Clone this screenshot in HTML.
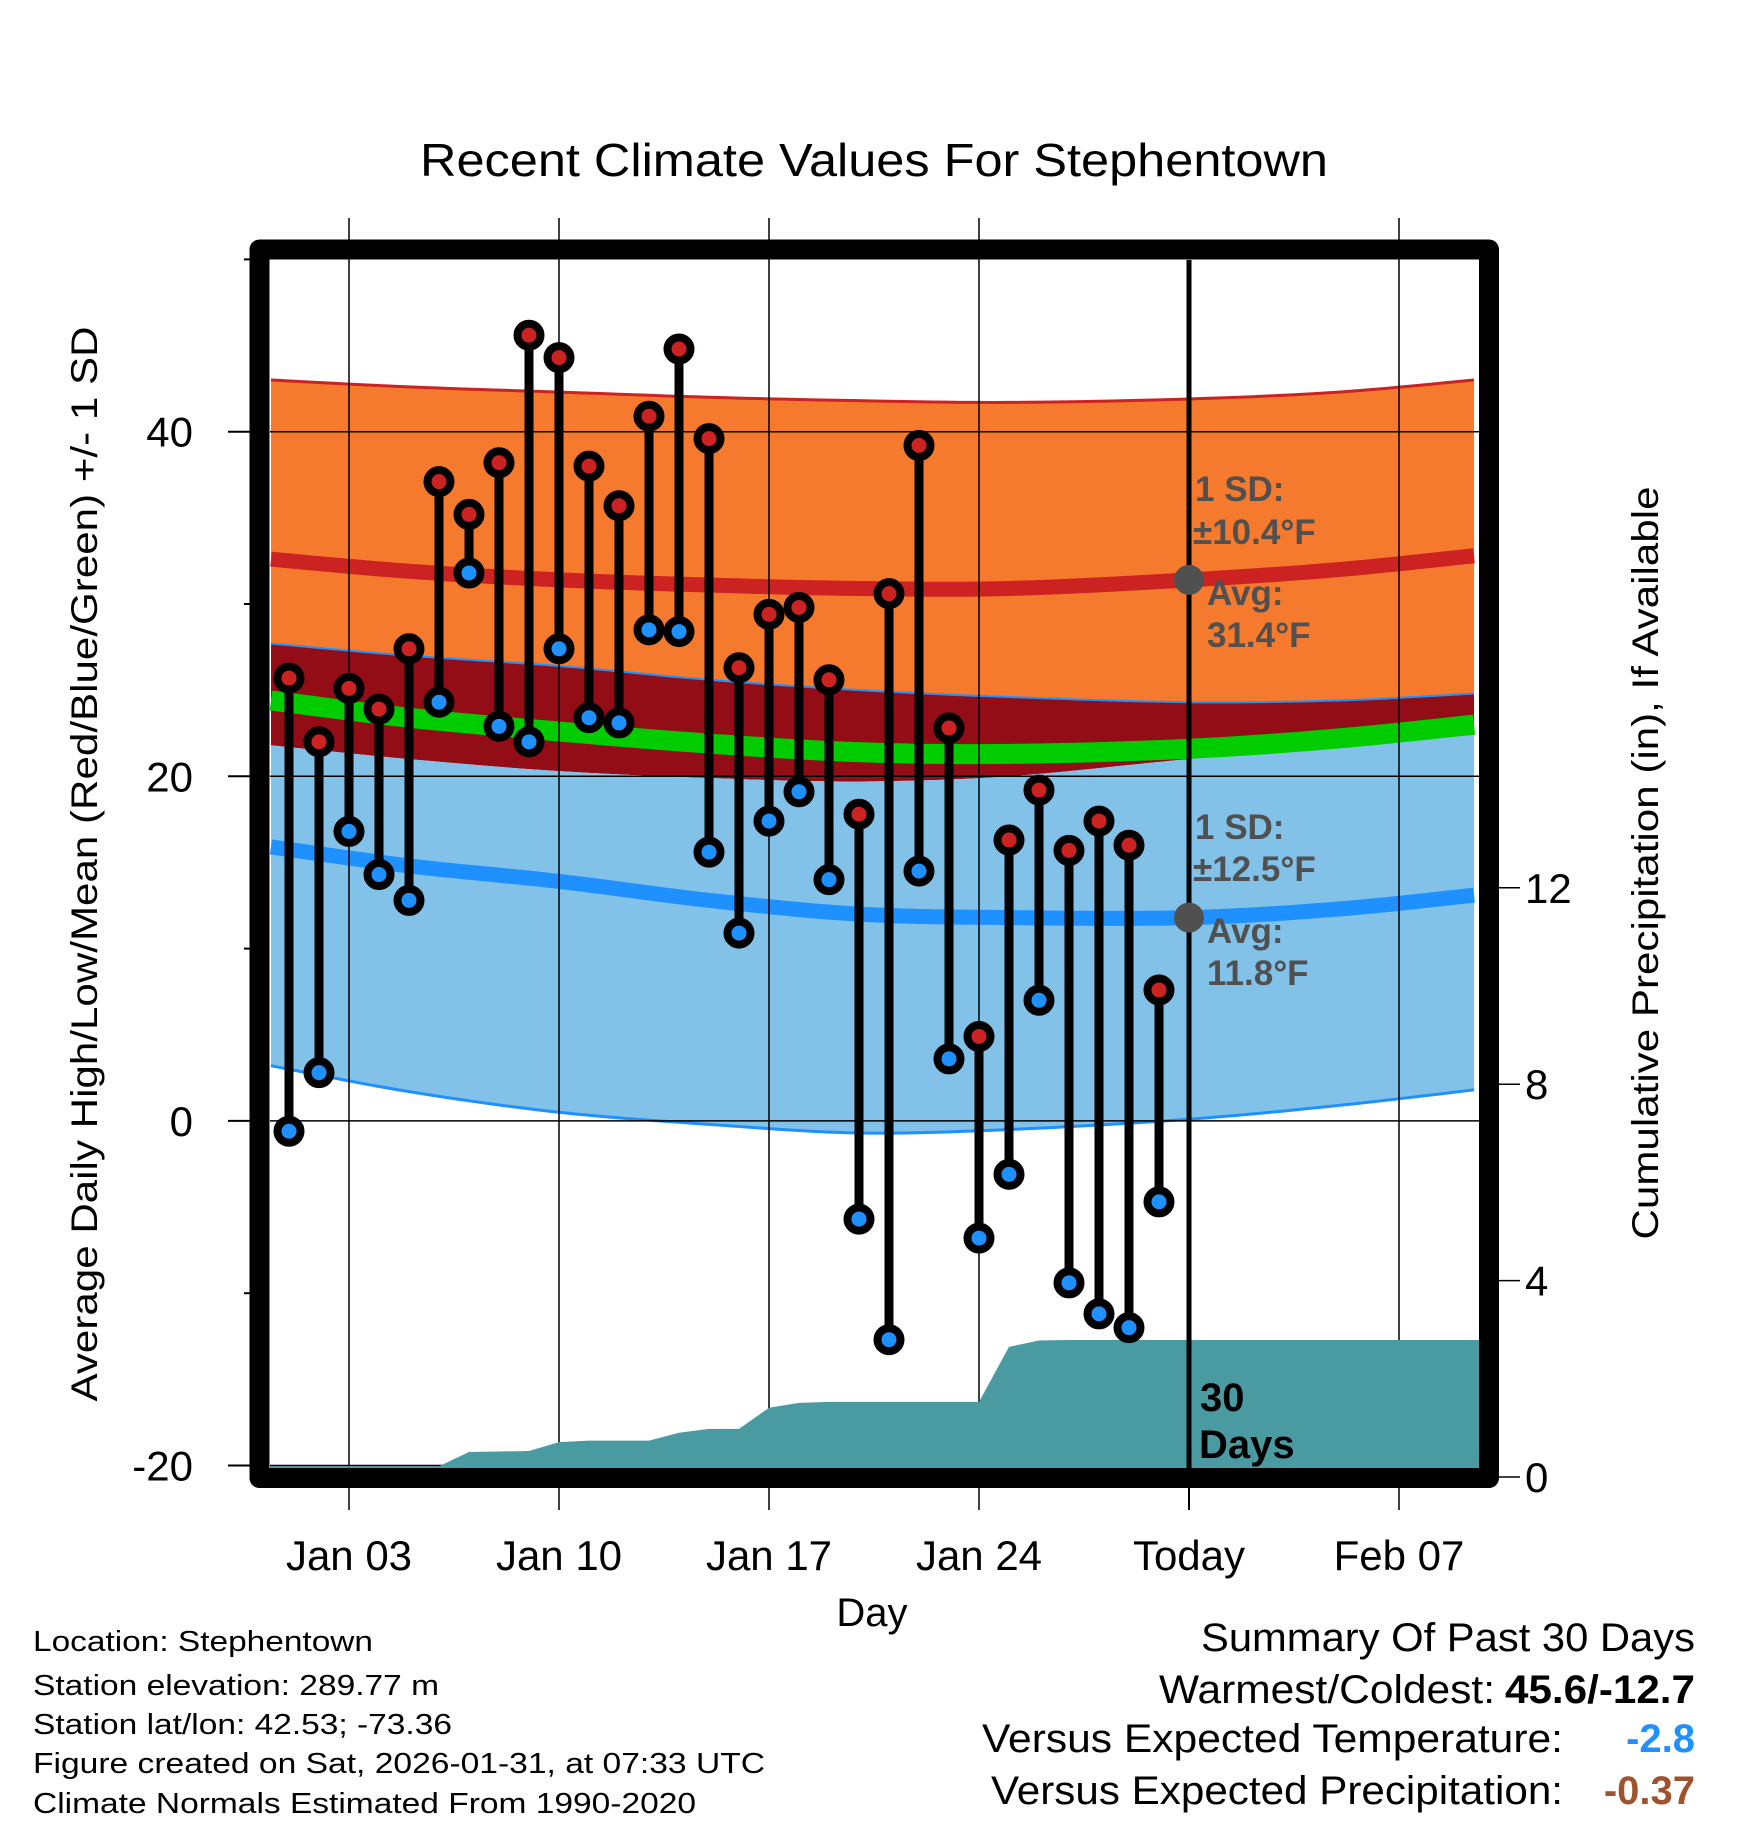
<!DOCTYPE html>
<html><head><meta charset="utf-8"><style>
html,body{margin:0;padding:0;background:#fff}
svg{display:block}
text{font-family:"Liberation Sans",sans-serif}
</style></head><body>
<svg id="chart" width="1748" height="1828" viewBox="0 0 1748 1828" xmlns="http://www.w3.org/2000/svg">
<g id="bands"></g>
<g id="grid"></g>
<g id="precip"></g>
<g id="marks"></g>
<rect x="259.5" y="249.5" width="1229.5" height="1228.5" fill="none" stroke="#000" stroke-width="20" stroke-linejoin="round"/>
<g id="ticks"></g>
<text x="420" y="176" font-size="46" textLength="908" lengthAdjust="spacingAndGlyphs">Recent Climate Values For Stephentown</text>
<text transform="translate(97,864) rotate(-90)" text-anchor="middle" font-size="37" textLength="1075" lengthAdjust="spacingAndGlyphs">Average Daily High/Low/Mean (Red/Blue/Green) +/- 1 SD</text>
<text transform="translate(1658,863) rotate(-90)" text-anchor="middle" font-size="37" textLength="753" lengthAdjust="spacingAndGlyphs">Cumulative Precipitation (in), If Available</text>
<text x="872" y="1626" text-anchor="middle" font-size="40">Day</text>
<g fill="#505050" font-weight="bold" font-size="35">
<text x="1195" y="501">1 SD:</text><text x="1193" y="544">±10.4°F</text>
<text x="1207" y="605">Avg:</text><text x="1207" y="647">31.4°F</text>
</g>
<g fill="#505050" font-weight="bold" font-size="35">
<text x="1195" y="839">1 SD:</text><text x="1193" y="881">±12.5°F</text>
<text x="1207" y="943">Avg:</text><text x="1207" y="985">11.8°F</text>
</g>
<g font-weight="bold" font-size="40" fill="#000">
<text x="1200" y="1411">30</text><text x="1199" y="1458">Days</text>
</g>
<g font-size="29">
<text x="33" y="1651" textLength="340" lengthAdjust="spacingAndGlyphs">Location: Stephentown</text>
<text x="33" y="1695" textLength="406" lengthAdjust="spacingAndGlyphs">Station elevation: 289.77 m</text>
<text x="33" y="1734" textLength="419" lengthAdjust="spacingAndGlyphs">Station lat/lon: 42.53; -73.36</text>
<text x="33" y="1773" textLength="732" lengthAdjust="spacingAndGlyphs">Figure created on Sat, 2026-01-31, at 07:33 UTC</text>
<text x="33" y="1813" textLength="663" lengthAdjust="spacingAndGlyphs">Climate Normals Estimated From 1990-2020</text>
</g>
<g font-size="40">
<text x="1695" y="1651" text-anchor="end" textLength="494" lengthAdjust="spacingAndGlyphs">Summary Of Past 30 Days</text>
<text x="1495" y="1703" text-anchor="end" textLength="336" lengthAdjust="spacingAndGlyphs">Warmest/Coldest:</text>
<text x="1695" y="1703" text-anchor="end" font-weight="bold" textLength="190" lengthAdjust="spacingAndGlyphs">45.6/-12.7</text>
<text x="1563" y="1752" text-anchor="end" textLength="581" lengthAdjust="spacingAndGlyphs">Versus Expected Temperature:</text>
<text x="1695" y="1752" text-anchor="end" font-weight="bold" fill="#1e90ff">-2.8</text>
<text x="1563" y="1804" text-anchor="end" textLength="572" lengthAdjust="spacingAndGlyphs">Versus Expected Precipitation:</text>
<text x="1695" y="1804" text-anchor="end" font-weight="bold" fill="#a0522d">-0.37</text>
</g>
</svg>
<script>
const days = [1,2,3,4,5,6,7,8,9,10,11,12,13,14,15,16,17,18,19,20,21,22,23,24,25,26,27,28,29,30];
const highs = [25.7,22.0,25.1,23.9,27.4,37.1,35.2,38.2,45.6,44.3,38.0,35.7,40.9,44.8,39.6,26.3,29.4,29.8,25.6,17.8,30.6,39.2,22.8,4.9,16.3,19.2,15.7,17.4,16.0,7.6];
const lows = [-0.6,2.8,16.8,14.3,12.8,24.3,31.8,22.9,22.0,27.4,23.4,23.1,28.5,28.4,15.6,10.9,17.4,19.1,14.0,-5.7,-12.7,14.5,3.6,-6.8,-3.1,7.0,-9.4,-11.2,-12.0,-4.7];
const precip = [0.22,0.22,0.22,0.22,0.22,0.22,0.51,0.52,0.53,0.71,0.74,0.74,0.74,0.90,0.98,0.98,1.41,1.51,1.53,1.53,1.53,1.53,1.53,1.53,2.65,2.78,2.79,2.79,2.79,2.79];
const normDays = [0.4,5,10,15,20,25,31,36,40.5];
const normHighUp = [43.0,42.6,42.3,42.0,41.8,41.7,41.9,42.3,43.0];
const normHigh = [32.6,31.9,31.4,31.1,30.9,30.9,31.4,32.0,32.8];
const normHighLo = [27.7,27.0,26.4,25.6,25.0,24.6,24.3,24.4,24.8];
const normMean = [24.4,23.4,22.6,21.9,21.4,21.3,21.6,22.2,23.0];
const normLowUp = [21.8,21.0,20.3,19.9,19.7,20.0,21.0,21.7,22.4];
const normLow = [15.9,14.8,13.9,12.8,12.0,11.8,11.8,12.3,13.1];
const normLowLo = [3.2,1.7,0.5,-0.2,-0.7,-0.5,0.1,0.9,1.8];
const yTicks = [-20,0,20,40];
const yMinor = [-10,10,30,50];
const pTicks = [0,4,8,12];
const xTickDays = [3,10,17,24,31,38];
const xTickLabels = ["Jan 03","Jan 10","Jan 17","Jan 24","Today","Feb 07"];
const todayDay = 31, todayHigh = 31.4, todayLow = 11.8;

const NS = "http://www.w3.org/2000/svg";
const X = d => 289 + (d - 1) * 30;
const Y = v => 431.7 + (40 - v) * 17.23;
const P = p => 1477 - p * 49.1;
const L = 270, R = 1479, T = 260, B = 1468;
function mk(parent, tag, attrs) {
  const e = document.createElementNS(NS, tag);
  for (const k in attrs) e.setAttribute(k, attrs[k]);
  parent.appendChild(e); return e;
}
const clamp = (x) => Math.max(L, Math.min(R, x));
// smooth (Catmull-Rom) sampling through the normal points
function smooth(arr) {
  const out = [];
  const n = normDays.length;
  for (let i = 0; i < n - 1; i++) {
    const p0 = [normDays[Math.max(0,i-1)], arr[Math.max(0,i-1)]];
    const p1 = [normDays[i], arr[i]];
    const p2 = [normDays[i+1], arr[i+1]];
    const p3 = [normDays[Math.min(n-1,i+2)], arr[Math.min(n-1,i+2)]];
    for (let s = 0; s < 10; s++) {
      const t = s / 10, t2 = t*t, t3 = t2*t;
      const f = (a,b,c,d) => 0.5*((2*b) + (-a+c)*t + (2*a-5*b+4*c-d)*t2 + (-a+3*b-3*c+d)*t3);
      out.push([clamp(X(f(p0[0],p1[0],p2[0],p3[0]))), Y(f(p0[1],p1[1],p2[1],p3[1]))]);
    }
  }
  out.push([clamp(X(normDays[n-1])), Y(arr[n-1])]);
  return out;
}
function pts(arr) { return smooth(arr).map(p => p.join(",")).join(" "); }
function band(top, bot) { return pts(top) + " " + smooth(bot).reverse().map(p => p.join(",")).join(" "); }

const bands = document.getElementById('bands');
let e;
e = mk(bands, 'polygon', {points: band(normHighUp, normHighLo), fill: '#f57a2d'});
 
e = mk(bands, 'polygon', {points: band(normHighLo, normLowUp), fill: '#920d15'});
 
e = mk(bands, 'polygon', {points: band(normLowUp, normLowLo), fill: '#82c1e8'});
 
e = mk(bands, 'polyline', {points: pts(normHighUp), fill: 'none', stroke: '#cc2222', 'stroke-width': 3});
 
e = mk(bands, 'polyline', {points: pts(normHighLo), fill: 'none', stroke: '#1e90ff', 'stroke-width': 2});
 
e = mk(bands, 'polyline', {points: pts(normLowLo), fill: 'none', stroke: '#1e90ff', 'stroke-width': 3});
 
e = mk(bands, 'polyline', {points: pts(normHigh), fill: 'none', stroke: '#cc2222', 'stroke-width': 15});
 
e = mk(bands, 'polyline', {points: pts(normMean), fill: 'none', stroke: '#00cc00', 'stroke-width': 20});
 
e = mk(bands, 'polyline', {points: pts(normLow), fill: 'none', stroke: '#1e90ff', 'stroke-width': 15});
 

const grid = document.getElementById('grid');
yTicks.forEach(v => {
  const g = mk(grid, 'line', {x1: L, x2: R, y1: Y(v), y2: Y(v), stroke: '#000', 'stroke-width': 1.5});
   
});
xTickDays.forEach((d, i) => {
  if (i === 4) return;
  const g = mk(grid, 'line', {x1: X(d), x2: X(d), y1: 218, y2: 1510, stroke: '#000', 'stroke-width': 1.5});
   
});

const pg = document.getElementById('precip');
let pp = L + "," + B + " " + L + "," + P(precip[0]) + " ";
pp += days.map((d, i) => X(d) + "," + P(precip[i])).join(" ");
pp += " " + R + "," + P(precip[precip.length - 1]) + " " + R + "," + B;
e = mk(pg, 'polygon', {points: pp, fill: '#4a9aa2'});
 

const marks = document.getElementById('marks');
e = mk(marks, 'line', {x1: X(todayDay), x2: X(todayDay), y1: T, y2: B, stroke: '#000', 'stroke-width': 5});
 
e = mk(marks, 'circle', {cx: X(todayDay), cy: Y(todayHigh), r: 15, fill: '#505050'});
 
e = mk(marks, 'circle', {cx: X(todayDay), cy: Y(todayLow), r: 15, fill: '#505050'});
 
days.forEach((d, i) => {
  const s = mk(marks, 'line', {x1: X(d), x2: X(d), y1: Y(highs[i]), y2: Y(lows[i]), stroke: '#000', 'stroke-width': 9});
   
  const h = mk(marks, 'circle', {cx: X(d), cy: Y(highs[i]), r: 11.5, fill: '#cc2222', stroke: '#000', 'stroke-width': 8});
   
  const l = mk(marks, 'circle', {cx: X(d), cy: Y(lows[i]), r: 11.5, fill: '#1e90ff', stroke: '#000', 'stroke-width': 8});
   
});

const ticks = document.getElementById('ticks');
yTicks.forEach(v => {
  const t = mk(ticks, 'line', {x1: 228, x2: 250, y1: Y(v), y2: Y(v), stroke: '#000', 'stroke-width': 2});
   
  const lb = mk(ticks, 'text', {x: 193, y: Y(v) + 15, 'text-anchor': 'end', 'font-size': 42});
  lb.textContent = String(v);
   
});
yMinor.forEach(v => {
  const t = mk(ticks, 'line', {x1: 244, x2: 250, y1: Y(v), y2: Y(v), stroke: '#000', 'stroke-width': 2});
   
});
pTicks.forEach(p => {
  const t = mk(ticks, 'line', {x1: 1499, x2: 1520, y1: P(p), y2: P(p), stroke: '#000', 'stroke-width': 1.5});
   
  const lb = mk(ticks, 'text', {x: 1525, y: P(p) + 15, 'font-size': 42});
  lb.textContent = String(p);
   
});
xTickDays.forEach((d, i) => {
  const lb = mk(ticks, 'text', {x: X(d), y: 1570, 'text-anchor': 'middle', 'font-size': 42});
  lb.textContent = xTickLabels[i];
   
});
e = mk(ticks, 'line', {x1: X(todayDay), x2: X(todayDay), y1: 1488, y2: 1510, stroke: '#000', 'stroke-width': 2});
 
</script>
</body></html>
